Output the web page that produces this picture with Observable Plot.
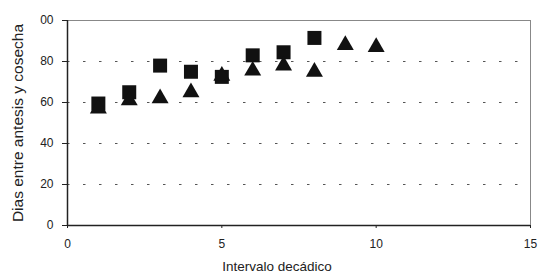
<!DOCTYPE html>
<html><head><meta charset="utf-8">
<script src="https://cdn.jsdelivr.net/npm/d3@7"></script>
<script src="https://cdn.jsdelivr.net/npm/@observablehq/plot@0.6"></script>
<style>body{margin:0;background:#fff;font-family:"Liberation Sans",Arial,sans-serif}</style>
</head><body><div id="chart"></div>
<script>
const squareX = [1,2,3,4,5,6,7,8];
const squareY = [59.5,65,78,75,72.5,83,84.5,91.5];
const triangleX = [1,2,3,4,5,6,7,8,9,10];
const triangleY = [57,61,62,65,73,75.5,78,75,88,87];
const yTicks = [0,20,40,60,80,100];
const yTickLabels = ["0","20","40","60","80","00"];
const xTicks = [0,5,10,15];
const yLabel = "Dias entre antesis y cosecha";
const xLabel = "Intervalo decádico";

const squares = squareX.map((x,i)=>({x, y: squareY[i]}));
const triangles = triangleX.map((x,i)=>({x, y: triangleY[i]}));

const chart = Plot.plot({
  width: 538, height: 279,
  marginLeft: 67, marginRight: 8, marginTop: 20, marginBottom: 54,
  style: {fontFamily: '"Liberation Sans", Arial, sans-serif', background: "#fff", color: "#222"},
  x: {domain: [0,15]},
  y: {domain: [0,100]},
  marks: [
    Plot.ruleY([20,40,60,80], {stroke: "#555", strokeDasharray: "2.5,13.5", strokeWidth: 1}),
    Plot.ruleY([100], {stroke: "#888", strokeWidth: 1}),
    Plot.ruleX([15], {stroke: "#888", strokeWidth: 1}),
    Plot.axisY({ticks: yTicks, tickFormat: d => yTickLabels[yTicks.indexOf(d)], tickSize: 5, fontSize: 12, tickPadding: 9, label: null}),
    Plot.axisX({ticks: xTicks, tickSize: 3, fontSize: 12, tickPadding: 11, label: null}),
    Plot.text([yLabel], {frameAnchor: "left", textAnchor: "middle", rotate: -90, dx: -49, fontSize: 15.5, fill: "#222"}),
    Plot.text([xLabel], {frameAnchor: "bottom", textAnchor: "middle", dy: 45, dx: -22, fontSize: 13.5, fill: "#222"}),
    Plot.ruleX([0], {stroke: "#222", strokeWidth: 1.5}),
    Plot.ruleY([0], {stroke: "#222", strokeWidth: 1.5}),
    Plot.dot(squares, {x: "x", y: "y", symbol: "square", r: 7.9, fill: "#111", stroke: "none"}),
    Plot.dot(triangles, {x: "x", y: "y", symbol: "triangle", r: 6.3, fill: "#111", stroke: "none"})
  ]
});
document.getElementById("chart").appendChild(chart);
</script></body></html>
